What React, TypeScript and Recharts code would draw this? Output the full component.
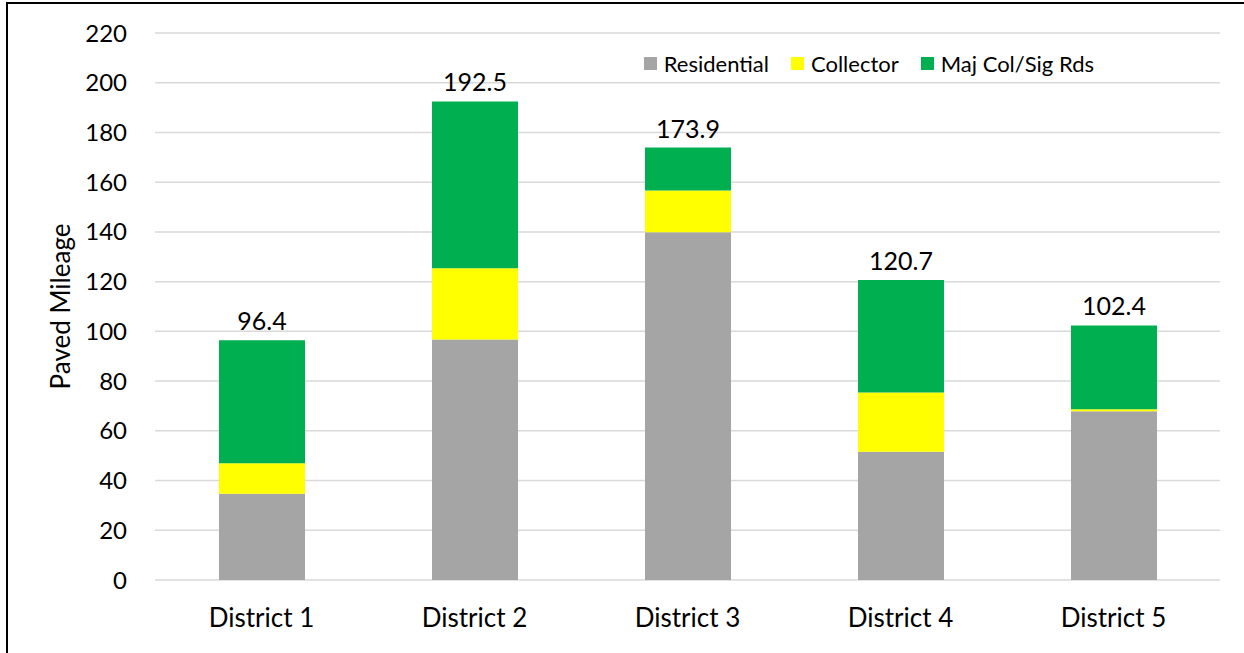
import React from 'react';
import {
  BarChart,
  Bar,
  XAxis,
  YAxis,
  CartesianGrid,
  Legend,
  LabelList,
  Label,
} from 'recharts';

const districts = ['District 1', 'District 2', 'District 3', 'District 4', 'District 5'];
const residential = [34.7, 96.7, 139.9, 51.6, 67.9];
const collector = [12.3, 28.7, 16.8, 23.8, 0.8];
const majorRoads = [49.4, 67.1, 17.2, 45.3, 33.7];
const totals = [96.4, 192.5, 173.9, 120.7, 102.4];
const yTicks = [0, 20, 40, 60, 80, 100, 120, 140, 160, 180, 200, 220];
const legendOrder = ['Residential', 'Collector', 'Maj Col/Sig Rds'];

const seriesColors = {
  residential: '#a5a5a5',
  collector: '#ffff00',
  major: '#00b050',
};

const data = districts.map((name, i) => ({
  name,
  residential: residential[i],
  collector: collector[i],
  major: majorRoads[i],
  total: totals[i],
}));

const FONT = 'Lato, "Liberation Sans", sans-serif';

const LegendBox = ({ payload }: any) => {
  const items = [...(payload || [])].sort(
    (a: any, b: any) => legendOrder.indexOf(a.value) - legendOrder.indexOf(b.value)
  );
  return (
    <div style={{ display: 'flex', justifyContent: 'flex-end', alignItems: 'center', fontFamily: FONT, fontSize: 22, height: 30 }}>
      {items.map((entry: any, i: number) => (
        <div key={entry.value} style={{ display: 'flex', alignItems: 'center', marginLeft: i === 0 ? 0 : 22 }}>
          <span style={{ display: 'inline-block', width: 13, height: 13, background: entry.color, marginRight: 7 }} />
          <span style={{ color: '#000' }}>{entry.value}</span>
        </div>
      ))}
    </div>
  );
};

const App: React.FC = () => {
  return (
    <div style={{ position: 'fixed', left: 0, top: 0, width: 1244, height: 653, overflow: 'hidden', background: '#fff' }}>
      <div style={{ position: 'absolute', left: 0, top: 0 }}>
        <BarChart
          width={1244}
          height={653}
          data={data}
          margin={{ top: 33, right: 24, bottom: 0, left: 0 }}
          style={{ fontFamily: FONT }}
        >
          <CartesianGrid vertical={false} stroke="#d9d9d9" strokeWidth={1.5} />
          <XAxis
            dataKey="name"
            axisLine={false}
            tickLine={false}
            height={73}
            tickMargin={23}
            tick={{ fill: '#000', fontSize: 26 }}
          />
          <YAxis
            domain={[0, 220]}
            ticks={yTicks}
            axisLine={false}
            tickLine={false}
            width={155}
            tickMargin={22}
            tick={{ fill: '#000', fontSize: 24 }}
          >
            <Label
              value="Paved Mileage"
              angle={-90}
              position="insideLeft"
              offset={61}
              style={{ textAnchor: 'middle', fill: '#000', fontSize: 26 }}
            />
          </YAxis>
          <Legend
            verticalAlign="top"
            align="right"
            wrapperStyle={{ top: 48, right: 150, width: 'auto', height: 0, overflow: 'visible' }}
            content={<LegendBox />}
          />
          <Bar dataKey="residential" name="Residential" stackId="a" fill={seriesColors.residential} barSize={86} isAnimationActive={false} />
          <Bar dataKey="collector" name="Collector" stackId="a" fill={seriesColors.collector} barSize={86} isAnimationActive={false} />
          <Bar dataKey="major" name="Maj Col/Sig Rds" stackId="a" fill={seriesColors.major} barSize={86} isAnimationActive={false}>
            <LabelList dataKey="total" position="top" offset={10} fill="#000" fontSize={25} />
          </Bar>
        </BarChart>
      </div>
      <div
        style={{
          position: 'absolute',
          left: 6,
          top: 2,
          width: 1400,
          height: 800,
          borderLeft: '2px solid #000',
          borderTop: '2px solid #000',
          pointerEvents: 'none',
          zIndex: 10,
        }}
      />
    </div>
  );
};

export default App;
